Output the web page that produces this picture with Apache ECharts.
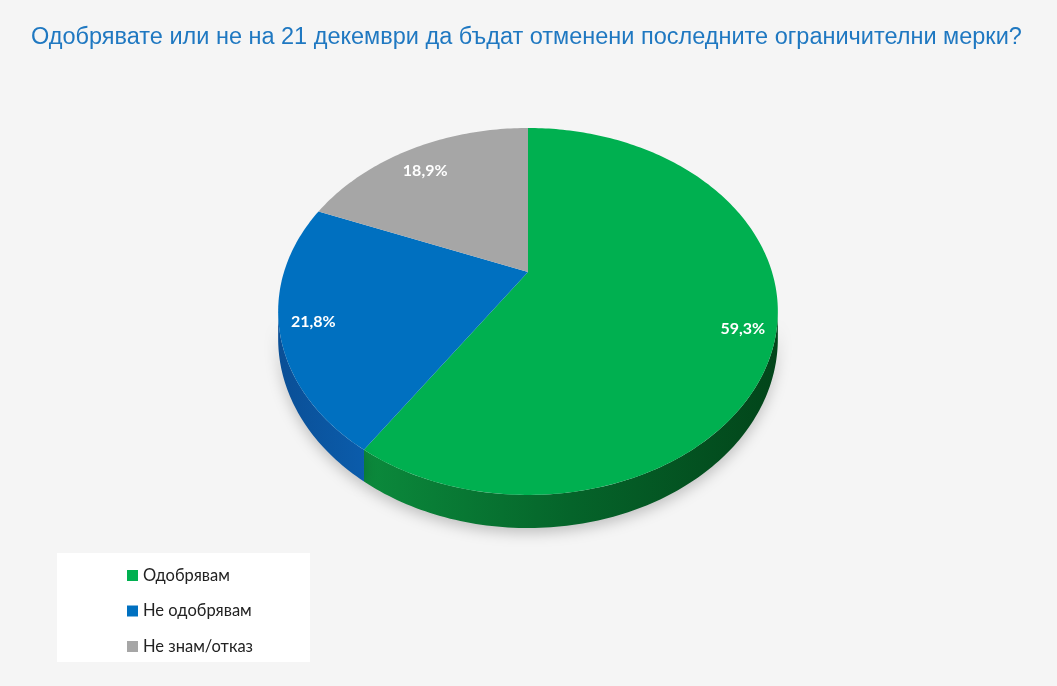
<!DOCTYPE html>
<html>
<head>
    <meta charset="utf-8">
    <title>Ограничителни мерки</title>
    <script src="https://cdn.jsdelivr.net/npm/echarts@6/dist/echarts.min.js"></script>
    <style>
        html, body { margin: 0; padding: 0; background: #f5f5f5; }
        #main { width: 1057px; height: 686px; }
    </style>
</head>
<body>
<div id="main"></div>
<script>
    // данни
    var categories = ['Одобрявам', 'Не одобрявам', 'Не знам/отказ'];
    var values = [59.3, 21.8, 18.9];
    var colors = ['#00b050', '#0070c0', '#a6a6a6'];

    // геометрия на наклонения кръг (перспектива)
    var CX = 528, CY = 272;   // център на кръга
    var B = 244, A = 175;     // хоризонтален / вертикален мащаб
    var K = 0.215;            // перспектива
    var DEPTH = 26;           // дебелина
    var VIS_FROM = 102.4, VIS_TO = 257.6; // видима страна (градуси от 12 ч.)
    var labelShiftY = [10, 2, 8];          // изместване на етикетите

    var total = values.reduce(function (s, v) { return s + v; }, 0);

    function proj(deg, r, dy) {
        var t = deg * Math.PI / 180;
        var u = r * Math.sin(t), v = -r * Math.cos(t);
        var w = 1 - K * v;
        return [CX + B * u / w, CY + A * v / w + (dy || 0) / w];
    }

    function arc(a0, a1, r, dy) {
        var pts = [];
        var n = Math.max(2, Math.ceil(Math.abs(a1 - a0)));
        for (var i = 0; i <= n; i++) {
            pts.push(proj(a0 + (a1 - a0) * i / n, r, dy));
        }
        return pts;
    }

    var sideColors = [
        [{offset: 0, color: '#0b8a3c'}, {offset: 0.5, color: '#05642a'}, {offset: 1, color: '#02451a'}],
        [{offset: 0, color: '#0a4f96'}, {offset: 1, color: '#0b5cab'}],
        [{offset: 0, color: '#7f7f7f'}, {offset: 1, color: '#6f6f6f'}]
    ];

    function makeRender(idx) {
        return function (params, api) {
            var start = 0;
            for (var i = 0; i < idx; i++) start += values[i] / total * 360;
            var end = start + values[idx] / total * 360;
            var children = [];

            var s = Math.max(start, VIS_FROM), e = Math.min(end, VIS_TO);
            if (e > s) {
                var top = arc(s, e, 1, 0);
                var bottom = arc(e, s, 1, DEPTH);
                children.push({
                    type: 'polygon',
                    shape: {points: top.concat(bottom)},
                    style: {
                        fill: {type: 'linear', x: 0, y: 0, x2: 1, y2: 0, colorStops: sideColors[idx]},
                        shadowBlur: 14,
                        shadowOffsetY: 5,
                        shadowColor: 'rgba(0,0,0,0.22)'
                    }
                });
            }

            children.push({
                type: 'polygon',
                shape: {points: [[CX, CY]].concat(arc(start, end, 1, 0))},
                style: {fill: colors[idx]}
            });

            var mid = (start + end) / 2;
            var lp = proj(mid, 0.87, 0);
            children.push({
                type: 'text',
                x: lp[0],
                y: lp[1] + labelShiftY[idx],
                style: {
                    text: values[idx].toFixed(1).replace('.', ',') + '%',
                    fill: '#ffffff',
                    font: 'bold 16px Lato, "Open Sans", sans-serif',
                    align: 'center',
                    verticalAlign: 'middle'
                }
            });

            return {type: 'group', children: children};
        };
    }

    var series = [];
    for (var i = 0; i < categories.length; i++) {
        series.push({
            name: categories[i],
            type: 'custom',
            coordinateSystem: 'none',
            itemStyle: {color: colors[i]},
            renderItem: makeRender(i),
            data: [values[i]],
            silent: true
        });
    }

    var myChart = echarts.init(document.getElementById('main'));
    myChart.setOption({
        backgroundColor: '#f5f5f5',
        animation: false,
        title: {
            text: 'Одобрявате или не на 21 декември да бъдат отменени последните ограничителни мерки?',
            left: 26,
            top: 21,
            textStyle: {
                color: '#1f78c1',
                fontSize: 23.5,
                fontWeight: 'normal',
                fontFamily: '"Liberation Sans Narrow", "Liberation Sans", sans-serif'
            }
        },
        graphic: [{
            type: 'rect',
            shape: {x: 57, y: 553, width: 253, height: 109},
            style: {fill: '#ffffff'},
            z: 0
        }],
        legend: {
            orient: 'vertical',
            left: 122,
            top: 562,
            icon: 'rect',
            itemWidth: 11,
            itemHeight: 11,
            itemGap: 18.5,
            data: categories,
            textStyle: {
                color: '#222222',
                fontSize: 16.5,
                lineHeight: 16,
                fontFamily: 'Lato, "Open Sans", sans-serif'
            },
            z: 5
        },
        series: series
    });
</script>
</body>
</html>
